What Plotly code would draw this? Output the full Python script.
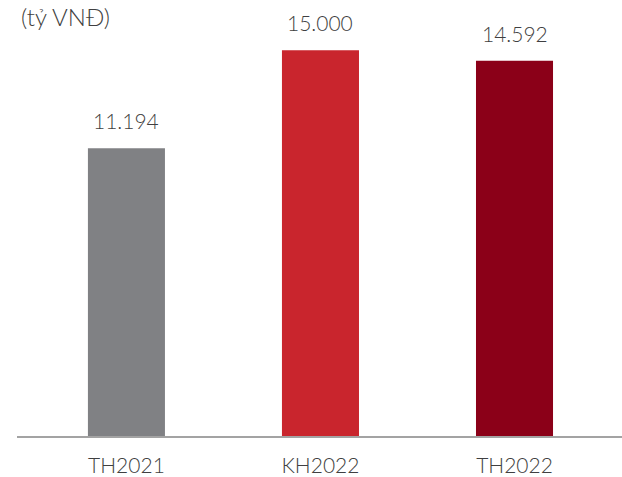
import plotly.graph_objects as go

# Doanh thu theo kỳ (tỷ VNĐ)
categories = ["TH2021", "KH2022", "TH2022"]
values = [11194, 15000, 14592]
value_labels = ["11.194", "15.000", "14.592"]
bar_colors = ["#808184", "#c9252d", "#8b0018"]

FONT = "Lato, 'Open Sans', sans-serif"
TEXT_COLOR = "#3f3f41"

fig = go.Figure(
    go.Bar(
        x=categories,
        y=values,
        marker=dict(color=bar_colors, line=dict(width=0)),
        width=0.397,
        hoverinfo="x+y",
    )
)

for cat, val, lab in zip(categories, values, value_labels):
    fig.add_annotation(
        x=cat, y=val, text=lab, showarrow=False,
        xanchor="center", yanchor="bottom", yshift=13,
        font=dict(family=FONT, size=21, color=TEXT_COLOR, weight=300),
    )

fig.add_annotation(
    xref="paper", yref="paper", x=0.0, y=1.0,
    xanchor="left", yanchor="top", xshift=2, yshift=0,
    text="(tỷ VNĐ)", showarrow=False,
    font=dict(family=FONT, size=24, color=TEXT_COLOR, weight=300),
)

fig.update_layout(
    width=622, height=477,
    margin=dict(l=17, r=0, t=0, b=35),
    paper_bgcolor="white", plot_bgcolor="white",
    showlegend=False,
    xaxis=dict(
        range=[-0.564, 2.554],
        showline=True, linecolor="#a3a3a3", linewidth=1.5,
        showgrid=False, zeroline=False,
        ticks="outside", ticklen=10, tickcolor="rgba(0,0,0,0)",
        tickfont=dict(family=FONT, size=21, color=TEXT_COLOR, weight=300),
    ),
    yaxis=dict(
        range=[0, 16957], visible=False, showgrid=False, zeroline=False,
    ),
)

fig.write_html("out.html")
